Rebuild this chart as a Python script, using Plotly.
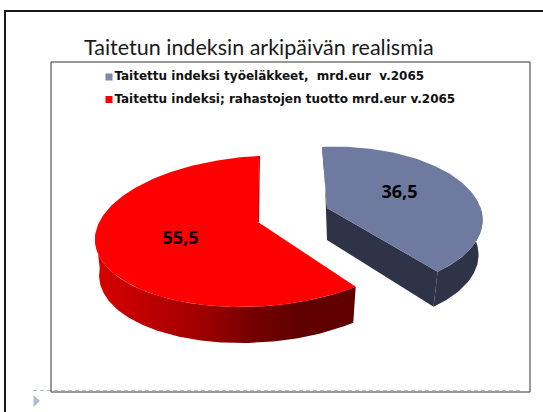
import numpy as np
import plotly.graph_objects as go

# ---- data ----
series_names = ["Taitettu indeksi työeläkkeet,  mrd.eur  v.2065",
                "Taitettu indeksi; rahastojen tuotto mrd.eur v.2065"]
values = [36.5, 55.5]
value_labels = ["36,5", "55,5"]
title_text = "Taitetun indeksin arkipäivän realismia"

# ---- style / projection of the tilted pie (pixel space) ----
top_colors = ["#6f7aa0", "#ff0000"]
swatch_colors = ["#8087aa", "#ff0000"]
side_colors = ["#2e3347", "#600000"]
# cx, cy, a, b, c, d of the projected circle of every slice
proj = [dict(cx=338.0, cy=218.7, a=143.7, b=-16.0, c=71.7, d=-6.8),
        dict(cx=258.0, cy=231.3, a=163.0, b=1.0, c=75.3, d=-7.6)]
apex = [(327, 208), (258, 222)]
depth = [(-4, 35), (0, 36)]
label_shift = [(-4, -11), (0, -7)]
legend_pos = [(109, 77), (109, 99.5)]
FONT = "Lato"

total = sum(values)
edges = np.cumsum([0] + values) / total * 2 * np.pi


def rim(p, t, k=1.0):
    return (p["cx"] + k * (p["a"] * np.sin(t) + p["b"] * np.cos(t)),
            p["cy"] + k * (-p["c"] * np.cos(t) + p["d"] * np.sin(t)))


fig = go.Figure()


def poly(x, y, **kw):
    fig.add_trace(go.Scatter(x=list(x), y=list(y), mode="lines", fill="toself",
                             line=dict(width=0), hoverinfo="skip",
                             showlegend=False, **kw))


# red slice: outer wall with gradient, then its top
i = 1
t = np.linspace(edges[i], edges[i + 1], 200)
x, y = rim(proj[i], t)
vis = t < np.deg2rad(275)
dx, dy = depth[i]
wx = np.r_[x[vis], (x[vis] * 0.975 + 258 * 0.025)[::-1]]
wy = np.r_[y[vis], (y[vis] + dy)[::-1]]
fig.add_trace(go.Scatter(
    x=wx, y=wy, mode="lines", fill="toself", line=dict(width=0), hoverinfo="skip",
    showlegend=False,
    fillgradient=dict(type="horizontal", colorscale=[
        [0, "#d80000"], [0.12, "#c80000"], [0.4, "#a00000"], [0.62, "#720000"],
        [0.78, "#600000"], [1, "#600000"]])))
# thin inner edge
poly([x[-1], x[-1] + 1, apex[i][0] + 1, apex[i][0] - 1],
     [y[-1], y[-1], apex[i][1], apex[i][1]], fillcolor="#c00000")
poly(np.r_[apex[i][0], x], np.r_[apex[i][1], y], fillcolor=top_colors[i])

# blue slice: cut wall, outer wall, top
i = 0
t = np.linspace(edges[i], edges[i + 1], 120)
x, y = rim(proj[i], t)
dx, dy = depth[i]
ax, ay = apex[i]
poly([x[0], ax, ax, x[0] + 2], [y[0], ay, ay + 32, y[0] + 6], fillcolor=side_colors[i])
poly([ax, x[-1], x[-1] + dx, ax], [ay, y[-1], y[-1] + dy, ay + 32], fillcolor=side_colors[i])
vis = t > np.deg2rad(85)
poly(np.r_[x[vis], (x[vis] + dx)[::-1]], np.r_[y[vis], (y[vis] + dy)[::-1]],
     fillcolor=side_colors[i])
poly(np.r_[ax, x], np.r_[ay, y], fillcolor=top_colors[i])

# value labels
for i in range(2):
    mid = (edges[i] + edges[i + 1]) / 2
    lx, ly = rim(proj[i], mid, 0.5)
    fig.add_trace(go.Scatter(
        x=[lx + label_shift[i][0]], y=[ly + label_shift[i][1]], mode="text",
        text=[value_labels[i]], hoverinfo="skip", showlegend=False,
        textfont=dict(family="Noto Sans", size=18, color="#000000", weight="bold")))

# legend, drawn in place so the swatch sits right next to its text
for i in range(2):
    fig.add_trace(go.Scatter(
        x=[legend_pos[i][0]], y=[legend_pos[i][1]], mode="markers+text",
        text=[series_names[i]], textposition="middle right", hoverinfo="skip",
        showlegend=False, name=series_names[i],
        textfont=dict(family="DejaVu Sans", size=12, color="#111111", weight="bold"),
        marker=dict(symbol="square", size=7, color=swatch_colors[i])))

shapes = [
    # slide frame
    dict(type="rect", x0=5, y0=11, x1=560, y1=440, line=dict(color="#1a1a1a", width=2)),
    # placeholder dashes and chart frame
    dict(type="line", x0=33, y0=390.5, x1=523, y1=390.5,
         line=dict(color="#a8bcd2", width=1, dash="4px,3px")),
    dict(type="rect", x0=51, y0=62, x1=530, y1=392, line=dict(color="#333333", width=1)),
    # bullet
    dict(type="path", path="M 33.5 395 L 40 401 L 33.5 407 Z",
         fillcolor="#a9bfd8", line=dict(width=0)),
]

fig.update_layout(
    width=543, height=412, margin=dict(l=0, r=0, t=0, b=0),
    paper_bgcolor="#ffffff", plot_bgcolor="#ffffff",
    xaxis=dict(range=[0, 543], visible=False, fixedrange=True),
    yaxis=dict(range=[412, 0], visible=False, fixedrange=True),
    shapes=shapes,
    showlegend=False,
    annotations=[dict(text=title_text, x=259, y=47, xref="x", yref="y",
                      showarrow=False, xanchor="center", yanchor="middle",
                      font=dict(family=FONT, size=21.5, color="#1a1a1a"))],
)
fig.write_html("out.html", config=dict(displayModeBar=False),
               post_script="document.body.style.margin='0';document.body.style.overflow='hidden';")
